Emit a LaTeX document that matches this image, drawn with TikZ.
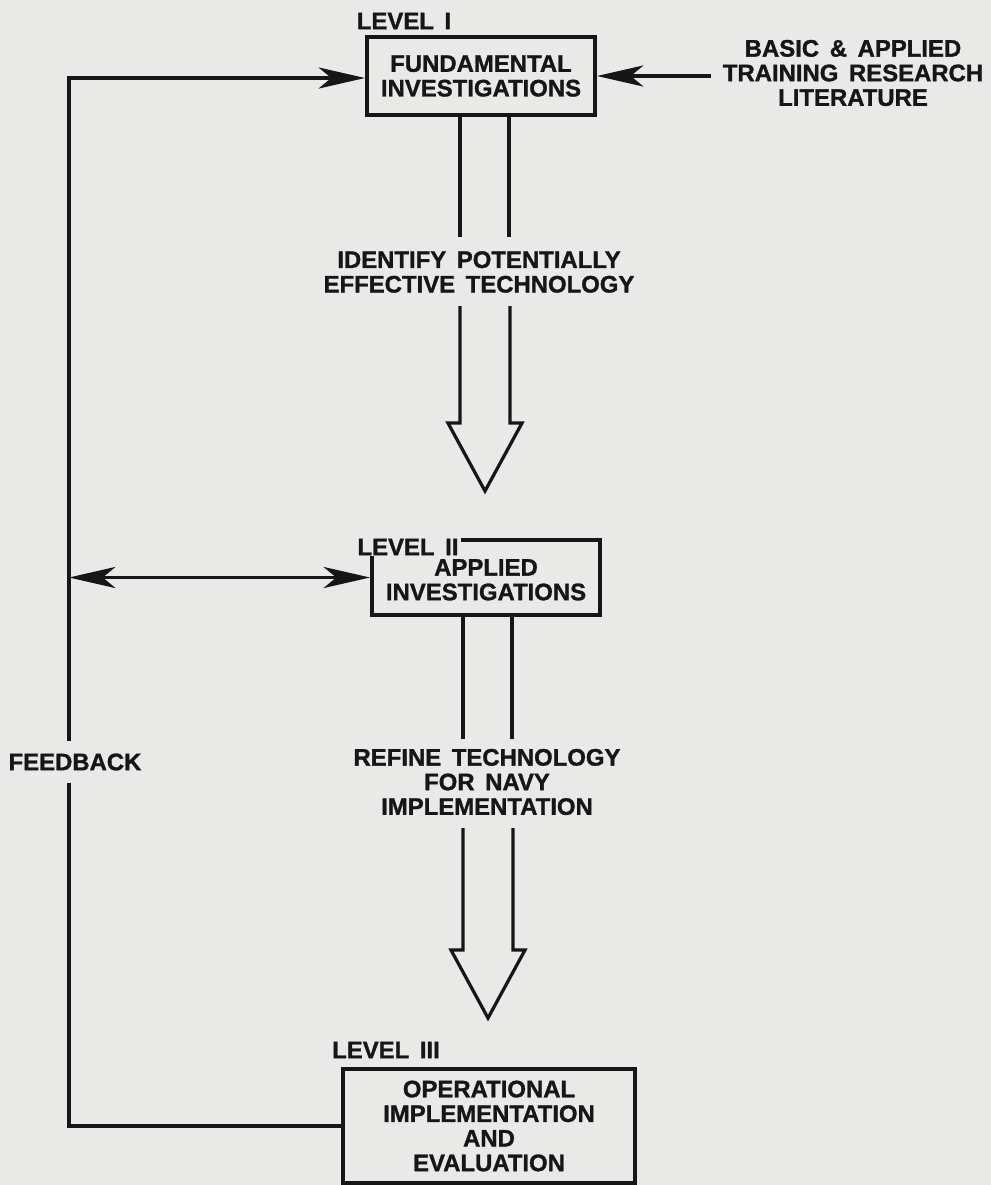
\documentclass[tikz,border=0pt]{standalone}
\usepackage{fontspec}
\setmainfont{Liberation Sans}[WordSpace=1.6,BoldFeatures={FakeBold=1.2}]
\usetikzlibrary{arrows.meta}
\definecolor{paper}{RGB}{233,233,231}
\definecolor{ink}{RGB}{22,22,22}

\begin{document}
\begin{tikzpicture}[x=0.025cm, y=-0.025cm,
    every node/.style={font=\bfseries\fontsize{17}{17.5}\selectfont, align=center, text=ink},
    box/.style={draw=ink, line width=2.8pt},
    line/.style={draw=ink, line width=2.2pt},
    rail/.style={draw=ink, line width=2.2pt},
    hollow/.style={draw=ink, line width=2.3pt, line join=miter},
    >={Stealth[length=33pt, width=15pt, inset=9pt]}]
        \useasboundingbox (0,0) rectangle (991,1185);
        \fill[paper] (0,0) rectangle (991,1185);
        % the three levels
        \node[box, minimum width=5.7cm, minimum height=1.95cm] (box1) at (481,76) {FUNDAMENTAL\\INVESTIGATIONS};
        \node[box, minimum width=5.7cm, minimum height=1.875cm] (box2) at (486,577.5) {\rule{0pt}{15pt}APPLIED\\INVESTIGATIONS};
        \node[box, minimum width=7.3cm, minimum height=2.85cm] (box3) at (489,1126) {OPERATIONAL\\IMPLEMENTATION\\AND\\EVALUATION};
        \node (lev1) at (404,21) {LEVEL I};
        \node[fill=paper, inner xsep=2pt, inner ysep=0.5pt] (lev2) at (408,547) {LEVEL II};
        \node (lev3) at (386,1050) {LEVEL III};
        % side labels
        \node[inner xsep=8pt] (basic) at (853,73) {BASIC \& APPLIED\\TRAINING RESEARCH\\LITERATURE};
        \node (ident) at (479,272) {IDENTIFY POTENTIALLY\\EFFECTIVE TECHNOLOGY};
        \node (refine) at (487,782) {REFINE TECHNOLOGY\\FOR NAVY\\IMPLEMENTATION};
        \node[inner ysep=9pt] (fb) at (75,762) {FEEDBACK};

        % literature into level I
        \draw[line, ->] (basic.west |- box1.east) -- (box1.east);
        % feedback loop
        \draw[line] (box3.west) -| ([xshift=-0.15cm]fb.south);
        \draw[line, ->] ([xshift=-0.15cm]fb.north) |- ([yshift=-0.05cm]box1.west);
        \draw[line, <->] ([xshift=-0.15cm]fb.north |- box2.west) -- (box2.west);

        % big hollow arrows
        \foreach \dx in {-21,28}
            \draw[rail] ([shift={(\dx,0)}]box1.south) -- ++(0,120);
        \foreach \dx in {-23,26}
            \draw[rail] ([shift={(\dx,0)}]box2.south) -- ++(0,122);
        \coordinate (tip1) at ([shift={(-1,-47)}]box2.north);
        \coordinate (tip2) at ([shift={(-1,-49)}]box3.north);
        \foreach \t/\h in {tip1/185, tip2/190}
            \draw[hollow] ([shift={(-25,-\h)}]\t) -- ([shift={(-25,-68)}]\t) -- ([shift={(-37,-68)}]\t)
                -- (\t) -- ([shift={(37,-68)}]\t) -- ([shift={(25,-68)}]\t) -- ([shift={(25,-\h)}]\t);
\end{tikzpicture}
\end{document}
